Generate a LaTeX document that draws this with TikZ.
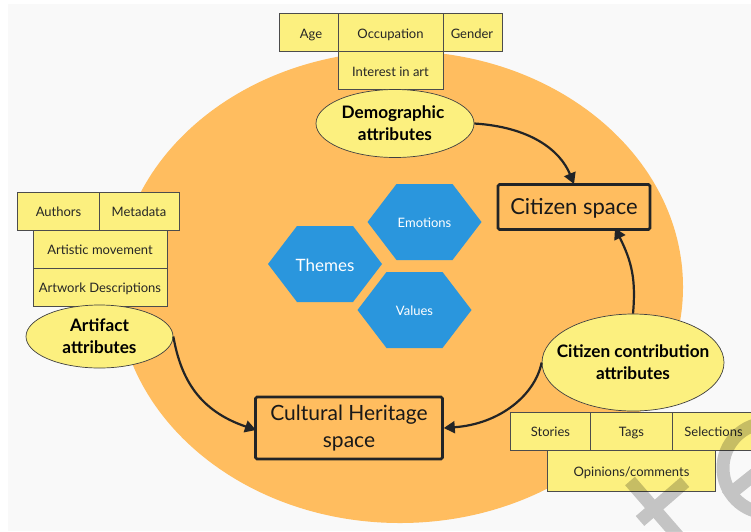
\documentclass[tikz,border=0pt]{standalone}
\usepackage{fontspec}
\setmainfont{Lato}
\usetikzlibrary{arrows.meta,shapes.geometric}
\definecolor{bgc}{HTML}{F9F9F9}
\definecolor{orangec}{HTML}{FFBD5F}
\definecolor{yellowc}{HTML}{FCF07F}
\definecolor{bluec}{HTML}{2A96DD}
\definecolor{inkc}{HTML}{222426}
\tikzset{
 attrbox/.style={draw=black!70,line width=0.9pt,fill=yellowc,minimum height=38pt,inner sep=0pt,text height=12pt,text depth=1pt,font=\fontsize{13}{15}\selectfont,text=black!85},
 attrell/.style={ellipse,draw=black!75,line width=0.7pt,fill=yellowc,inner xsep=-25pt,inner ysep=-12pt,align=center,font=\fontsize{17.2}{22}\selectfont\bfseries},
 spacebox/.style={draw=inkc,line width=2.6pt,rounded corners=1.5pt,fill=orangec,inner sep=0pt,align=center,text=black!90},
 link/.style={draw=inkc,line width=2.2pt,-{Triangle[length=11pt,width=12pt]}},
 wmark/.style={black,line width=13pt},
}
\newcommand{\hexat}[4]{% name, cx, cy, label
 \path[fill=bluec] (#2-57,#3) -- (#2-28,#3-38) -- (#2+28,#3-38) -- (#2+57,#3) -- (#2+28,#3+38) -- (#2-28,#3+38) -- cycle;
 \node[text=white,inner sep=0pt] (#1) at (#2,#3+1) {#4};
}
\begin{document}
\begin{tikzpicture}[x=1pt,y=-1pt]
\useasboundingbox (0,0) rectangle (751,531);
\fill[white] (0,0) rectangle (751,531);
\fill[bgc] (8,4) rectangle (751,531);
\fill[orangec] (400,287) ellipse [x radius=283,y radius=236];
% hexagons
\hexat{themes}{325}{264}{\fontsize{17}{18}\selectfont Themes}
\hexat{emotions}{424.5}{222}{\fontsize{13}{15}\selectfont Emotions}
\hexat{values}{414.5}{310}{\fontsize{13}{15}\selectfont Values}
% demographic boxes
\node[attrbox,minimum width=60pt] (age) at (309,32.5) {\hspace{4pt}Age};
\node[attrbox,minimum width=60pt] (gender) at (472,32.5) {Gender};
\node[attrbox,minimum width=105pt] (occ) at (390.5,32.5) {Occupation};
\node[attrbox,minimum width=105pt] (interest) at (390.5,70.5) {Interest in art};
\node[attrell,minimum width=158pt,minimum height=68pt] (demo) at (395,123.5) {\hspace*{-4pt}Demographic\\attributes};
% artifact boxes
\node[attrbox,minimum width=82pt] (authors) at (58.5,211) {Authors};
\node[attrbox,minimum width=80pt] (meta) at (139,211) {Metadata};
\node[attrbox,minimum width=134pt] (move) at (100,249) {Artistic movement};
\node[attrbox,minimum width=134pt] (desc) at (100,287) {Artwork Descriptions};
\node[attrell,minimum width=147pt,minimum height=63pt] (artifact) at (99.5,336.5) {Artifact\\attributes};
% citizen boxes
\node[attrbox,minimum width=81pt] (stories) at (550.5,431) {Stories};
\node[attrbox,minimum width=82pt] (tags) at (631.5,431) {Tags};
\node[attrbox,minimum width=82pt] (sel) at (713.5,431) {Selections};
\node[attrbox,minimum width=168pt,minimum height=41pt] (opin) at (631.5,471) {Opinions/comments};
\node[attrell,minimum width=182pt,minimum height=97pt] (contrib) at (633,362.5) {Citizen contribution\\attributes};
% spaces
\node[spacebox,minimum width=152pt,minimum height=45pt,font=\fontsize{22}{27}\selectfont,text height=17pt,text depth=2pt] (citizen) at (574,207) {Citizen space};
\node[spacebox,minimum width=187pt,minimum height=62pt,font=\fontsize{21}{27}\selectfont] (heritage) at (349,428) {\raisebox{-1pt}{Cultural Heritage}\\\raisebox{-1pt}{space}};
% connectors
\draw[link] (demo.east) .. controls (530,127) and (560,150) .. (574,184);
\draw[link] (contrib.north) .. controls (636,280) and (632,262) .. (615,228);
\draw[link] (contrib.west) .. controls (535,395) and (500,424) .. (heritage.east);
\draw[link] (artifact.east) .. controls (181,380) and (200,411) .. (256,430);
% watermark over everything
\begin{scope}[transparency group,opacity=0.21]
\draw[wmark] (768,468) circle [radius=45];
\draw[wmark] (726,497) -- (770,462);
\draw[wmark] (630,481) -- (690,550);
\draw[wmark] (685,482) -- (640,521);
\end{scope}
\end{tikzpicture}
\end{document}
